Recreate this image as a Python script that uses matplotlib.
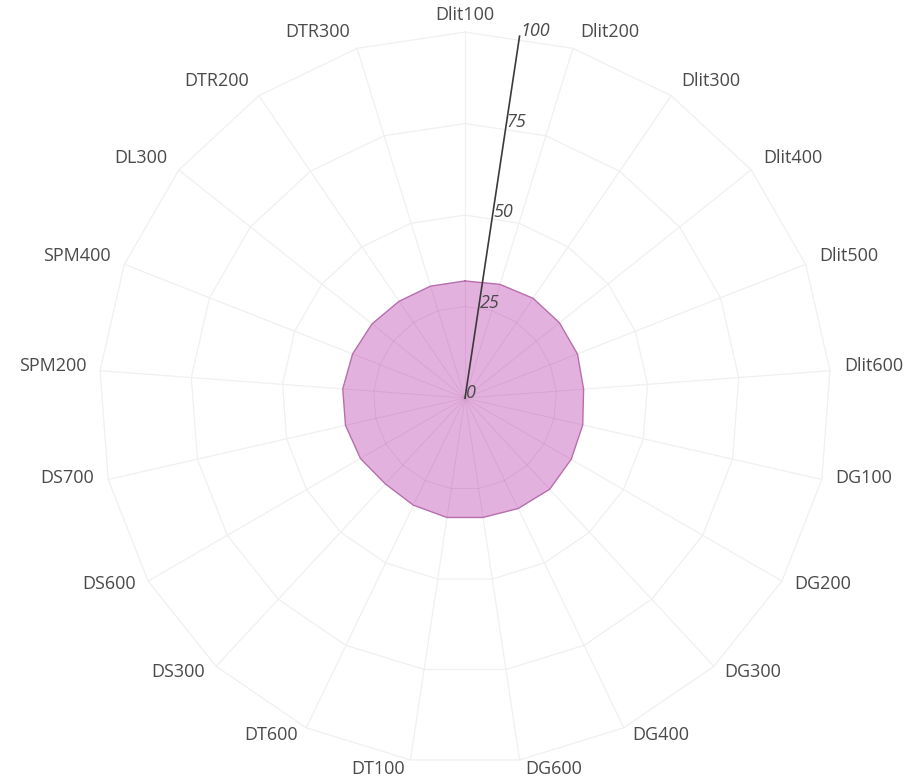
import numpy as np
import matplotlib
matplotlib.use("Agg")
import matplotlib.pyplot as plt

plt.rcParams['font.family'] = ['Open Sans', 'DejaVu Sans']

# 21 categories, clockwise from the top
categories = ['Dlit100', 'Dlit200', 'Dlit300', 'Dlit400', 'Dlit500', 'Dlit600',
              'DG100', 'DG200', 'DG300', 'DG400', 'DG600', 'DT100', 'DT600',
              'DS300', 'DS600', 'DS700', 'SPM200', 'SPM400', 'DL300',
              'DTR200', 'DTR300']
values = [32, 32.5, 33, 33, 33, 32.5, 33, 33.5, 34, 33.5, 33, 33, 32.5,
          32, 33, 33.5, 33.5, 33, 32.5, 32, 32]
radial_ticks = [0, 25, 50, 75, 100]

n = len(categories)
theta = np.arange(n) * 2 * np.pi / n
theta_c = np.append(theta, theta[0])

fig = plt.figure(figsize=(9.1, 7.77), dpi=100)
ax = fig.add_axes([0.1088, 0.0167, 0.8044, 0.942], projection='polar')
ax.set_theta_zero_location('N')
ax.set_theta_direction(-1)
ax.set_ylim(0, 100)
ax.grid(False)
ax.spines['polar'].set_visible(False)
ax.set_xticks([])
ax.set_yticks([])
ax.patch.set_alpha(0)

grid_col = '#f0f0f0'
for v in radial_ticks[1:]:
    ax.plot(theta_c, [v] * (n + 1), color=grid_col, lw=0.9, clip_on=False, zorder=1)
for t in theta:
    ax.plot([t, t], [0, 100], color=grid_col, lw=0.9, clip_on=False, zorder=1)

# data polygon
vals_c = values + values[:1]
poly = ax.fill(theta_c, vals_c, color='#e3b1de', zorder=2, lw=0)[0]
ax.plot(theta_c, vals_c, color='#b86ead', lw=1.0, zorder=4)

# grid showing through the fill
inner = [ax.plot(theta_c, [25] * (n + 1), color='#b577b0', lw=0.6, alpha=0.25, zorder=3)[0]]
for t in theta:
    inner.append(ax.plot([t, t], [0, 100], color='#b577b0', lw=0.6, alpha=0.25, zorder=3)[0])
for ln in inner:
    ln.set_clip_path(poly)

# radial axis, halfway between first two categories
ra = np.pi / n
ax.plot([ra, ra], [0, 100], color='#3a3a3a', lw=1.2, clip_on=False, zorder=5)
for v in radial_ticks:
    ax.annotate(str(v), xy=(ra, v), xytext=(1, 5), textcoords='offset pixels',
                ha='left', va='center', fontsize=13, style='italic',
                color='#4a4a4a', zorder=6, annotation_clip=False)

# angular labels
for t, lab in zip(theta, categories):
    s, c = np.sin(t), np.cos(t)
    if abs(s) < 0.05:
        ha = 'center'
    elif s > 0:
        ha = 'left'
    else:
        ha = 'right'
    dx = np.sign(s) * (4 + 10 * abs(s)) if ha != 'center' else 0
    dy = 4 + 13 * c
    ax.annotate(lab, xy=(t, 100), xytext=(dx, dy), textcoords='offset pixels',
                ha=ha, va='center', fontsize=13, color='#4a4a4a',
                annotation_clip=False)

fig.savefig('out.png', dpi=100, facecolor='white')
